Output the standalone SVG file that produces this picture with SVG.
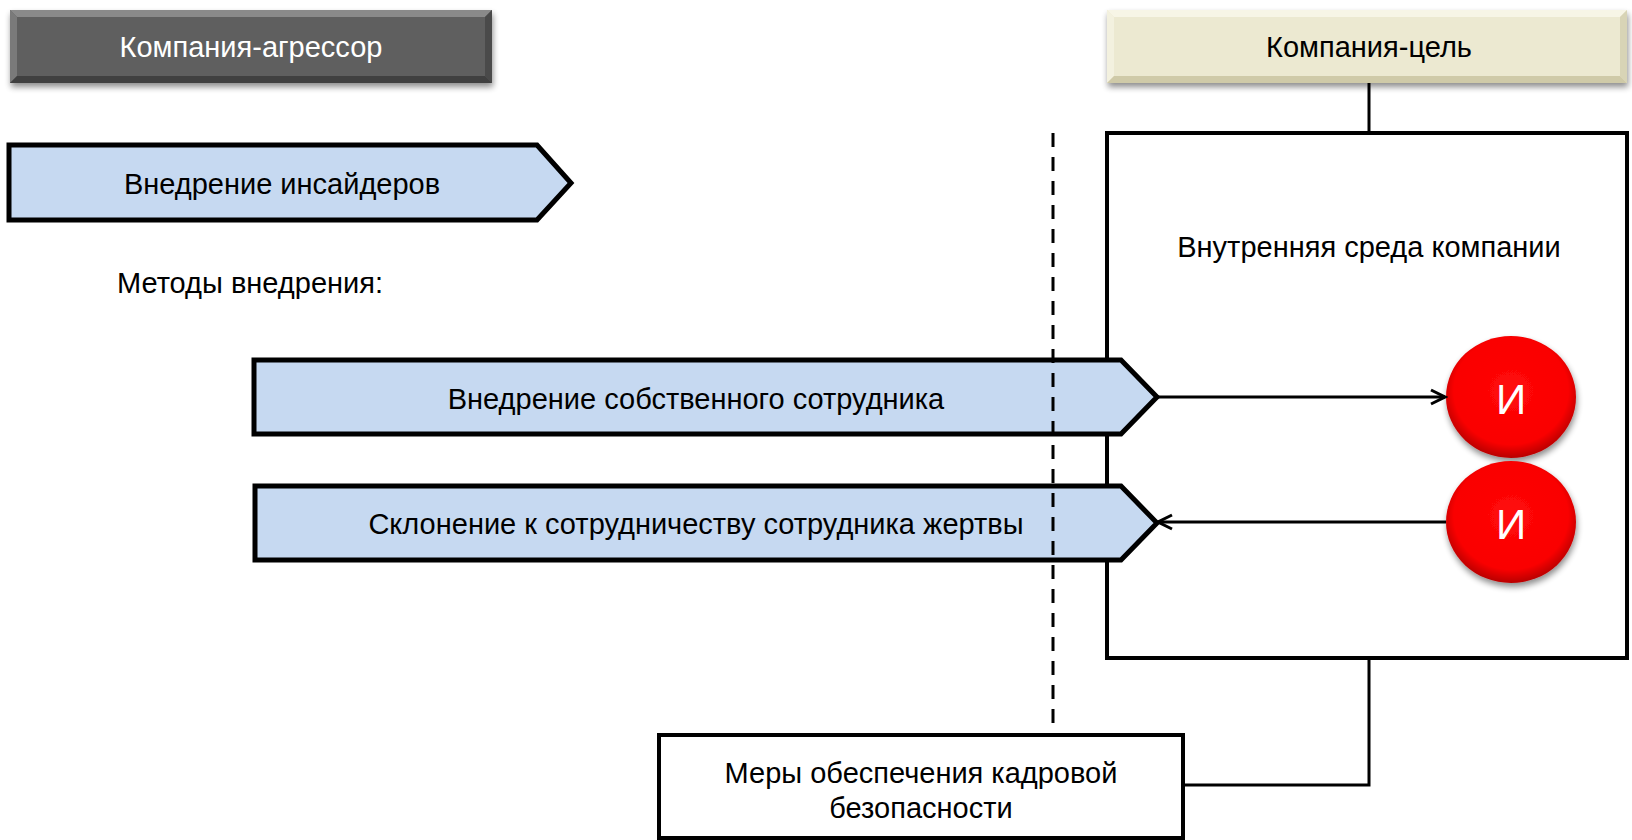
<svg xmlns="http://www.w3.org/2000/svg" width="1632" height="840" viewBox="0 0 1632 840">
<style>
text{font-family:"Liberation Sans","Noto Sans",sans-serif;font-size:29px;text-anchor:middle;dominant-baseline:central;fill:#000}
.chev{fill:#c6d9f1;stroke:#000;stroke-width:5;stroke-linejoin:miter}
.box{fill:#fff;stroke:#000;stroke-width:4}
.con{fill:none;stroke:#000;stroke-width:3}
.ci{fill:url(#red);filter:url(#sh)}
</style>
<defs>
<filter id="sh" x="-20%" y="-20%" width="140%" height="150%">
<feGaussianBlur in="SourceAlpha" stdDeviation="3"/>
<feOffset dx="1" dy="4" result="b"/>
<feComponentTransfer><feFuncA type="linear" slope="0.45"/></feComponentTransfer>
<feMerge><feMergeNode/><feMergeNode in="SourceGraphic"/></feMerge>
</filter>
<radialGradient id="red" cx="50%" cy="45%" r="55%">
<stop offset="0" stop-color="#ff0a0a"/>
<stop offset="0.8" stop-color="#fa0000"/>
<stop offset="1" stop-color="#b80000"/>
</radialGradient>
<marker id="ah" viewBox="0 0 20 20" refX="17" refY="10" markerWidth="20" markerHeight="20" markerUnits="userSpaceOnUse" orient="auto">
<path d="M3,3 L17,10 L3,17" fill="none" stroke="#000" stroke-width="3"/>
</marker>
</defs>
<rect width="1632" height="840" fill="#fff"/>

<g id="aggressor">
<rect x="10" y="10" width="482" height="73" fill="#5f5f5f" filter="url(#sh)"/>
<path d="M10,10 H492 L485,17 H17 Z" fill="#8a8a8a"/>
<path d="M10,10 L17,17 V76 L10,83 Z" fill="#7a7a7a"/>
<path d="M492,10 V83 L485,76 V17 Z" fill="#4a4a4a"/>
<path d="M10,83 H492 L485,76 H17 Z" fill="#404040"/>
<text x="251" y="47" style="fill:#fff">Компания-агрессор</text>
</g>

<g id="target">
<rect x="1107" y="10" width="520" height="73" fill="#ece9d1" filter="url(#sh)"/>
<path d="M1107,10 H1627 L1620,17 H1114 Z" fill="#f7f5e6"/>
<path d="M1107,10 L1114,17 V76 L1107,83 Z" fill="#f3f1df"/>
<path d="M1627,10 V83 L1620,76 V17 Z" fill="#d8d4b6"/>
<path d="M1107,83 H1627 L1620,76 H1114 Z" fill="#cfcaa8"/>
<text x="1369" y="47">Компания-цель</text>
</g>

<g id="internal">
<rect class="box" x="1107" y="133" width="520" height="525"/>
<text x="1369" y="247">Внутренняя среда компании</text>
</g>

<g id="insiders">
<path class="chev" d="M9,145 H537 L571,183 L537,220 H9 Z"/>
<text x="282" y="184">Внедрение инсайдеров</text>
</g>

<g id="methods">
<text x="117" y="283" style="text-anchor:start">Методы внедрения:</text>
</g>

<g id="own">
<path class="chev" d="M254,360 H1121 L1157,397 L1121,434 H254 Z"/>
<text x="696" y="399">Внедрение собственного сотрудника</text>
</g>

<g id="recruit">
<path class="chev" d="M255,486 H1121 L1157,523 L1121,560 H255 Z"/>
<text x="696" y="524">Склонение к сотрудничеству сотрудника жертвы</text>
</g>

<g id="i1">
<ellipse class="ci" cx="1511" cy="397" rx="65" ry="61"/>
<text x="1511" y="399" style="fill:#fff;font-size:42px">И</text>
</g>
<g id="i2">
<ellipse class="ci" cx="1511" cy="522" rx="65" ry="61"/>
<text x="1511" y="524" style="fill:#fff;font-size:42px">И</text>
</g>

<g id="measures">
<rect class="box" x="659" y="735" width="524" height="103"/>
<text x="921" y="773">Меры обеспечения кадровой</text>
<text x="921" y="808">безопасности</text>
</g>

<g id="connectors">
<line x1="1053" y1="133" x2="1053" y2="733" stroke="#000" stroke-width="3" stroke-dasharray="14,10"/>
<line class="con" x1="1369" y1="83" x2="1369" y2="133"/>
<polyline class="con" points="1369,658 1369,785 1183,785"/>
<line class="con" x1="1158" y1="397" x2="1445" y2="397" marker-end="url(#ah)"/>
<line class="con" x1="1446" y1="522" x2="1158" y2="522" marker-end="url(#ah)"/>
</g>
</svg>
